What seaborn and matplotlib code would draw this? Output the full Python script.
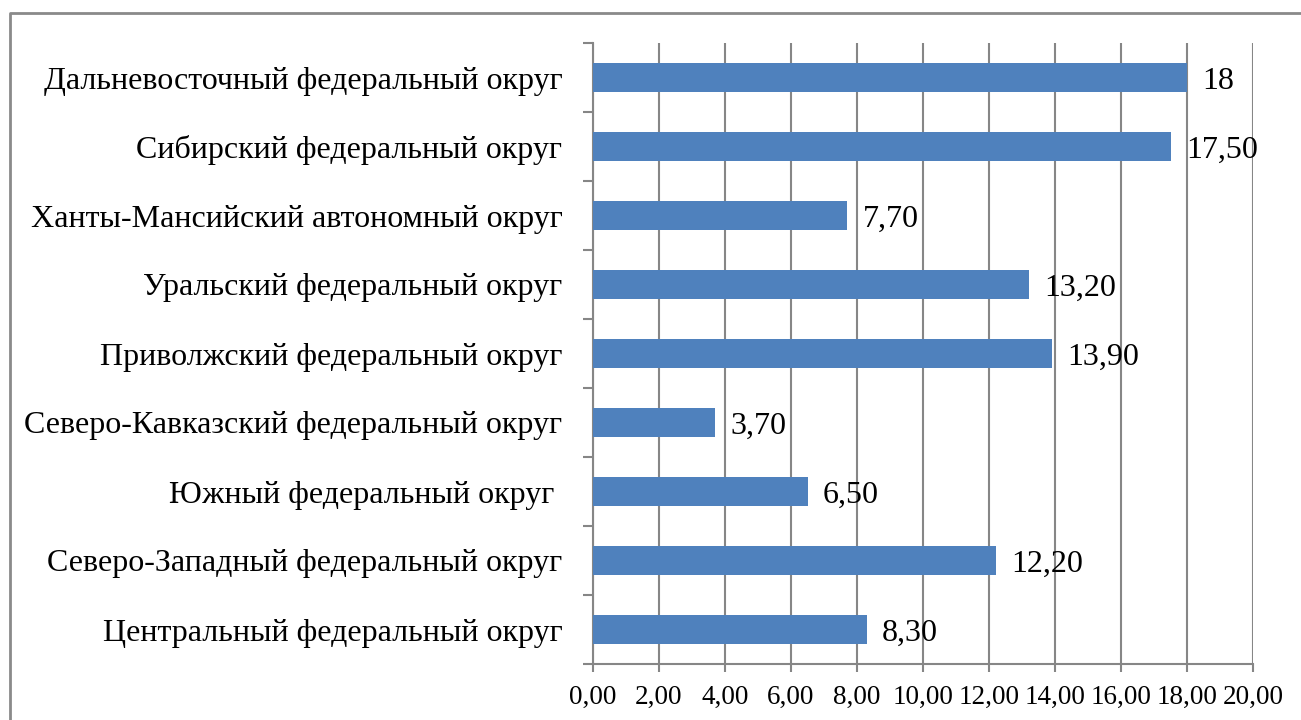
import matplotlib
matplotlib.use("Agg")
import matplotlib.pyplot as plt
from matplotlib.lines import Line2D
from matplotlib.ticker import FixedLocator
import seaborn as sns
import pandas as pd

categories = [
    "Дальневосточный федеральный округ",
    "Сибирский федеральный округ",
    "Ханты-Мансийский автономный округ",
    "Уральский федеральный округ",
    "Приволжский федеральный округ",
    "Северо-Кавказский федеральный округ",
    "Южный федеральный округ ",
    "Северо-Западный федеральный округ",
    "Центральный федеральный округ",
]
values = [18.0, 17.5, 7.7, 13.2, 13.9, 3.7, 6.5, 12.2, 8.3]
value_labels = ["18", "17,50", "7,70", "13,20", "13,90", "3,70", "6,50", "12,20", "8,30"]
x_ticks = [0, 2, 4, 6, 8, 10, 12, 14, 16, 18, 20]
x_tick_labels = ["0,00", "2,00", "4,00", "6,00", "8,00", "10,00", "12,00", "14,00", "16,00", "18,00", "20,00"]

sns.set_theme(style="white")
plt.rcParams["font.family"] = ["Liberation Serif", "DejaVu Serif"]

df = pd.DataFrame({"region": categories, "value": values})

W, H = 1301, 720
fig = plt.figure(figsize=(W / 100, H / 100), dpi=100)
ax = fig.add_axes([593 / W, 1 - 664 / H, (1253 - 593) / W, (664 - 43) / H])

grey = "#868686"
sns.barplot(data=df, x="value", y="region", order=categories, color="#4F81BD",
            width=0.41, saturation=1, linewidth=0, ax=ax, zorder=3)

ax.set_xlim(0, 20)
ax.set_ylim(len(categories) - 0.5, -0.5)
ax.set_xlabel("")
ax.set_ylabel("")

ax.xaxis.set_major_locator(FixedLocator(x_ticks))
ax.set_xticklabels(x_tick_labels)
ax.grid(axis="x", color=grey, linewidth=1.5, zorder=0)
ax.grid(axis="y", visible=False)
ax.set_axisbelow(True)

ax.yaxis.set_minor_locator(FixedLocator([i - 0.5 for i in range(len(categories) + 1)]))
ax.tick_params(axis="y", which="major", length=0, pad=22, labelsize=23, labelcolor="black")
ax.tick_params(axis="y", which="minor", length=7, width=1.5, color=grey, left=True)
ax.tick_params(axis="x", which="major", length=6, width=1.5, color=grey, bottom=True,
               pad=9, labelsize=19.5, labelcolor="black")

for s in ["top", "right"]:
    ax.spines[s].set_visible(False)
for s in ["left", "bottom"]:
    ax.spines[s].set_color(grey)
    ax.spines[s].set_linewidth(1.5)

texts = ax.bar_label(ax.containers[0], labels=value_labels, padding=11, fontsize=23, color="black")
for t in texts:
    t.xyann = (11, -3)

# outer frame
fig.add_artist(Line2D([10 / W, 10 / W, 1.0], [0.0, 1 - 13 / H, 1 - 13 / H],
                      transform=fig.transFigure, color="#8a8a8a", linewidth=2))

fig.savefig("out.png", dpi=100)
